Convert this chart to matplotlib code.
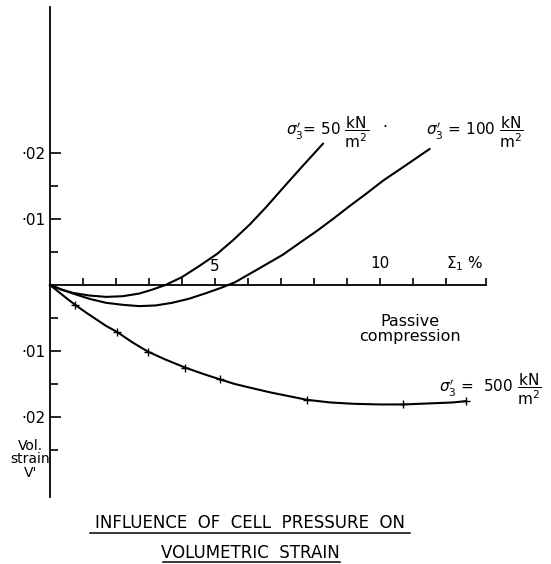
import numpy as np
import matplotlib
matplotlib.use("Agg")
import matplotlib.pyplot as plt

plt.rcParams['font.family'] = ['DejaVu Sans']
plt.rcParams['mathtext.fontset'] = 'dejavusans'

# axial strain (%) and volumetric strain
x_50 = [0, 0.35, 0.7, 1.2, 1.7, 2.2, 2.7, 3.1, 3.5, 4.0, 4.5, 5.06, 5.55, 6.06,
        6.55, 7.06, 7.65, 8.27]
v_50 = [0, -0.0007, -0.0012, -0.0016, -0.0018, -0.0017, -0.0013, -0.0007, 0.0,
        0.0012, 0.0028, 0.0047, 0.0068, 0.0092, 0.0118, 0.0147, 0.0180, 0.0214]

x_100 = [0, 0.35, 0.7, 1.2, 1.7, 2.2, 2.7, 3.2, 3.7, 4.2, 4.75, 5.2, 5.6, 6.3,
         7.06, 7.6, 8.09, 8.6, 9.09, 9.6, 10.09, 10.8, 11.5]
v_100 = [0, -0.0007, -0.0013, -0.0021, -0.0027, -0.0030, -0.0032, -0.0031,
         -0.0027, -0.0021, -0.0012, -0.0004, 0.0004, 0.0024, 0.0046, 0.0065,
         0.0082, 0.0101, 0.012, 0.0139, 0.0158, 0.0182, 0.0206]

x_500 = [0, 0.2, 0.45, 0.76, 1.1, 1.4, 1.7, 2.03, 2.5, 2.97, 3.5, 4.09, 4.6,
         5.15, 5.6, 6.1, 6.7, 7.2, 7.79, 8.5, 9.2, 10.0, 10.7, 11.2, 11.7,
         12.2, 12.6]
v_500 = [0, -0.0008, -0.0018, -0.003, -0.0042, -0.0052, -0.0062, -0.0071,
         -0.0087, -0.0101, -0.0113, -0.0125, -0.0134, -0.0143, -0.015, -0.0156,
         -0.0163, -0.0168, -0.0174, -0.0178, -0.018, -0.0181, -0.0181, -0.018,
         -0.0179, -0.0178, -0.0176]
# plotted test points (+ marks) on the 500 kN/m2 curve
xm_500 = [0.76, 2.03, 2.97, 4.09, 5.15, 7.79, 10.7, 12.6]
vm_500 = [-0.003, -0.0071, -0.0101, -0.0125, -0.0143, -0.0174, -0.0181, -0.0176]

xticks = list(range(1, 13))
yticks_major = [-0.02, -0.01, 0.01, 0.02]
yticklabels = ['·02', '·01', '·01', '·02']
yticks_minor = [-0.025, -0.015, -0.005, 0.005, 0.015]

fig = plt.figure(figsize=(5.51, 5.64), dpi=100)
ax = fig.add_axes([0, 0, 1, 1])
ax.set_xlim(-50 / 33, 501 / 33)
ax.set_ylim(-279 / 6600, 285 / 6600)
ax.patch.set_alpha(0)

lw = 1.5
ax.plot(x_50, v_50, color='black', lw=lw)
ax.plot(x_100, v_100, color='black', lw=lw)
ax.plot(x_500, v_500, color='black', lw=lw)
ax.plot(xm_500, vm_500, ls='none', marker='+', ms=6, mew=1, color='black')

for s in ['top', 'right']:
    ax.spines[s].set_visible(False)
ax.spines['left'].set_position(('data', 0))
ax.spines['bottom'].set_position(('data', 0))
ax.spines['left'].set_bounds(-0.0321, 0.0421)
ax.spines['bottom'].set_bounds(0, 13.2)
ax.spines['left'].set_linewidth(1.3)
ax.spines['bottom'].set_linewidth(1.3)

ax.set_xticks(xticks + [13.2])
ax.set_xticklabels([])
ax.tick_params(axis='x', direction='in', length=5, width=1.2)
ax.set_yticks(yticks_major)
ax.set_yticklabels(yticklabels)
ax.set_yticks(yticks_minor, minor=True)
ax.tick_params(axis='y', which='major', direction='in', length=8, width=1.2,
               labelsize=11, pad=3)
ax.tick_params(axis='y', which='minor', direction='in', length=6, width=1.2)

fs = 11
ax.text(5, 0.0028, '5', ha='center', va='center', fontsize=fs)
ax.text(10, 0.0032, '10', ha='center', va='center', fontsize=fs)
ax.text(12.0, 0.0033, r'$\Sigma_{\rm 1}$ %', ha='left', va='center', fontsize=fs)

ax.text(7.15, 0.0232, r"$\sigma_3^{\prime}$= 50 $\dfrac{\rm kN}{\rm m^2}$",
        ha='left', va='center', fontsize=fs)
ax.text(10.15, 0.0238, '·', ha='center', va='center', fontsize=fs)
ax.text(11.4, 0.0232, r"$\sigma_3^{\prime}$ = 100 $\dfrac{\rm kN}{\rm m^2}$",
        ha='left', va='center', fontsize=fs)
ax.text(11.8, -0.0158, r"$\sigma_3^{\prime}$ =  500 $\dfrac{\rm kN}{\rm m^2}$",
        ha='left', va='center', fontsize=fs)
ax.text(10.9, -0.0066, 'Passive\ncompression', ha='center', va='center',
        fontsize=11.5, linespacing=1.0)
ax.text(-0.6, -0.0264, 'Vol.\nstrain\nV\'', ha='center', va='center',
        fontsize=10, linespacing=0.95)

fig.text(250 / 551, 1 - 523 / 564, 'INFLUENCE  OF  CELL  PRESSURE  ON',
         ha='center', va='center', fontsize=12)
fig.text(250 / 551, 1 - 553 / 564, 'VOLUMETRIC  STRAIN',
         ha='center', va='center', fontsize=12)
fig.add_artist(plt.Line2D([90 / 551, 410 / 551], [1 - 533 / 564, 1 - 533 / 564],
                          color='black', lw=1.1))
fig.add_artist(plt.Line2D([163 / 551, 340 / 551], [1 - 562 / 564, 1 - 562 / 564],
                          color='black', lw=1.1))

fig.savefig('out.png', dpi=100)
